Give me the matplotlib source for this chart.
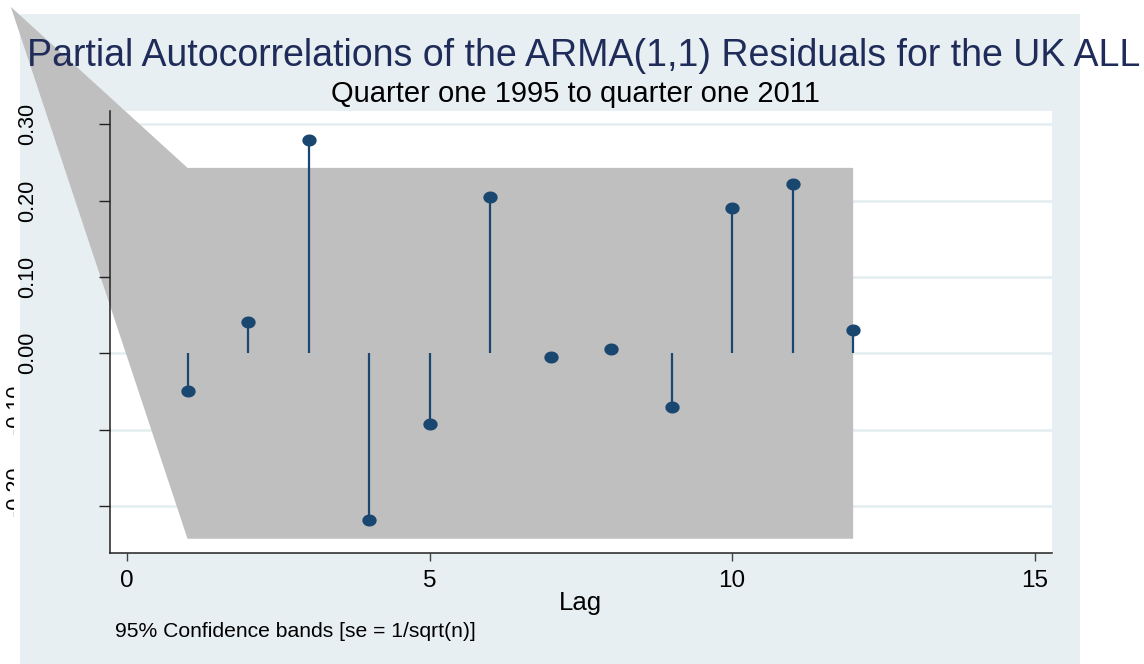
import numpy as np
import matplotlib
matplotlib.use("Agg")
import matplotlib.pyplot as plt
from matplotlib.patches import Rectangle, Polygon
from matplotlib.path import Path
from matplotlib.transforms import Bbox

plt.rcParams["font.family"] = ["Liberation Sans", "DejaVu Sans"]

# Partial autocorrelations by lag
lags = [1, 2, 3, 4, 5, 6, 7, 8, 9, 10, 11, 12]
pacf = [-0.049, 0.041, 0.280, -0.218, -0.093, 0.205, -0.005, 0.006, -0.070, 0.190, 0.222, 0.030]

# 95% confidence band (se = 1/sqrt(n)), plus the stray vertex of the band polygon
band_half = 0.243
stray_vertex = (-1.92, 0.454)

xticks = [0, 5, 10, 15]
yticks = [-0.20, -0.10, 0.00, 0.10, 0.20, 0.30]

title = "Partial Autocorrelations of the ARMA(1,1) Residuals for the UK ALL"
subtitle = "Quarter one 1995 to quarter one 2011"
xlabel = "Lag"
note = "95% Confidence bands [se = 1/sqrt(n)]"

W, H = 1144, 664
PANEL = "#e8eff2"
GRID = "#e4edf0"
NAVY = "#1a476f"
BAND = "#bfbfbf"

fig = plt.figure(figsize=(W / 100, H / 100), dpi=100)
fig.patch.set_facecolor("white")

# graph region background
fig.add_artist(Rectangle((20 / W, 0), 1060 / W, 650 / H, transform=fig.transFigure,
                         facecolor=PANEL, edgecolor="none", zorder=-1))

ax = fig.add_axes([110 / W, (H - 552.7) / H, 941.6 / W, 442.2 / H])
ax.set_facecolor("white")
ax.set_xlim(-0.281, 15.28)
ax.set_ylim(-0.2613, 0.3182)

for s in ("top", "right"):
    ax.spines[s].set_visible(False)
for s in ("left", "bottom"):
    ax.spines[s].set_linewidth(1.1)
    ax.spines[s].set_color("#222222")

# horizontal grid
for yv in yticks:
    ax.axhline(yv, color=GRID, lw=1.8, zorder=0.6)

# confidence band polygon
lo, hi = lags[0], lags[-1]
verts = [stray_vertex, (lo, band_half), (hi, band_half), (hi, -band_half), (lo, -band_half)]
ax.add_patch(Polygon(verts, closed=True, facecolor=BAND, edgecolor="none",
                     clip_on=False, zorder=1))

# stems and markers
t = np.linspace(0, 2 * np.pi, 60)
ell = Path(np.column_stack([np.cos(t), 0.84 * np.sin(t)]), closed=True)
ax.vlines(lags, 0, pacf, color=NAVY, lw=1.6, zorder=2)
ax.plot(lags, pacf, linestyle="none", marker=ell, markersize=10.3,
        color=NAVY, markeredgewidth=0, zorder=3)

ax.set_xticks(xticks)
ax.set_xticklabels([str(v) for v in xticks])
ax.set_yticks(yticks)
ax.set_yticklabels([f"{v:.2f}" if v >= 0 else "" for v in yticks],
                   rotation=90, va="center")
ax.tick_params(axis="x", direction="out", length=5.8, width=1.0, color="#444444",
               pad=7, labelsize=17.5)
ax.tick_params(axis="y", direction="out", length=7.7, width=1.0, color="#222222",
               pad=44, labelsize=15.5)

# negative y labels, cut off at the left edge
clip = Bbox.from_extents(0, 0, 14, H)
for yv, ytop in ((-0.10, 385), (-0.20, 467)):
    tx = fig.text(4.5 / W, 1 - ytop / H, f"{yv:.2f}", rotation=90, ha="left", va="top",
                  fontsize=15.5, color="black")
    tx.set_clip_on(True)
    tx.set_clip_box(clip)

fig.text(584 / W, 1 - 66 / H, title, ha="center", va="baseline",
         fontsize=27, color="#1f2c5a")
fig.text(575.5 / W, 1 - 101.7 / H, subtitle, ha="center", va="baseline",
         fontsize=21, color="black")
fig.text(580 / W, 1 - 610 / H, xlabel, ha="center", va="baseline",
         fontsize=18.5, color="black")
fig.text(115 / W, 1 - 637.3 / H, note, ha="left", va="baseline",
         fontsize=15.2, color="black")

fig.savefig("out.png", dpi=100, facecolor="white")
